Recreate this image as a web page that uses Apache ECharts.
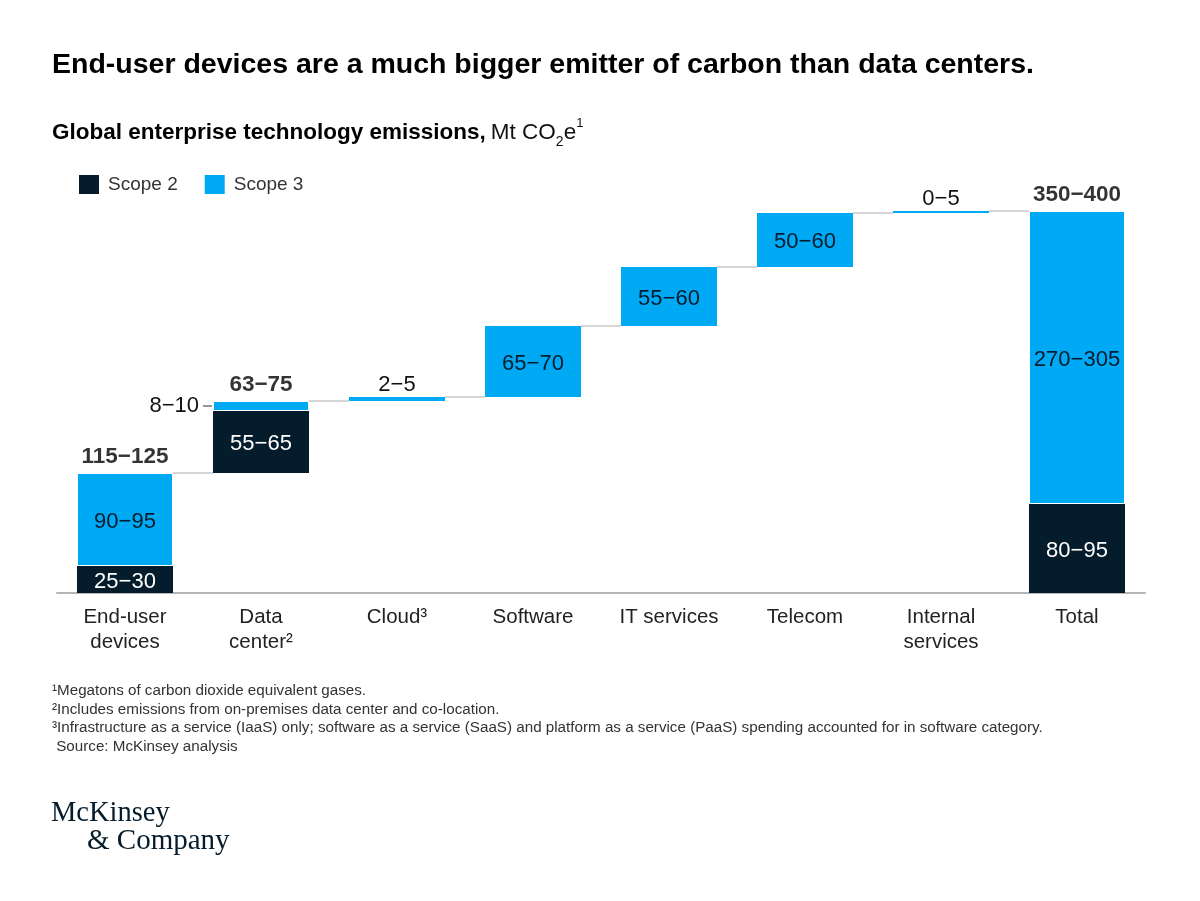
<!DOCTYPE html>
<html><head><meta charset="utf-8">
<script src="https://cdn.jsdelivr.net/npm/echarts@6/dist/echarts.min.js"></script>
<style>html,body{margin:0;padding:0;background:#fff}#c{width:1200px;height:901px}</style>
</head><body><div id="c"></div>
<script>
const categories = ['End-user\ndevices', 'Data\ncenter\u00B2', 'Cloud\u00B3', 'Software', 'IT services', 'Telecom', 'Internal\nservices', 'Total'];
const isTotal = [false, false, false, false, false, false, false, true];
const scope2 = [27, 62, 0, 0, 0, 0, 0, 89];
const scope3 = [93, 10, 4, 71, 59, 54, 2, 293];
const scope2Labels = ['25\u221230', '55\u221265', '', '', '', '', '', '80\u221295'];
const scope3Labels = ['90\u221295', '8\u221210', '2\u22125', '65\u221270', '55\u221260', '50\u221260', '0\u22125', '270\u2212305'];
const totalLabels = ['115\u2212125', '63\u221275', '', '', '', '', '', '350\u2212400'];
const footnotes = [
  '\u00B9Megatons of carbon dioxide equivalent gases.',
  '\u00B2Includes emissions from on-premises data center and co-location.',
  '\u00B3Infrastructure as a service (IaaS) only; software as a service (SaaS) and platform as a service (PaaS) spending accounted for in software category.',
  ' Source: McKinsey analysis'
];

const FONT = 'Liberation Sans, Arial, sans-serif';
const NAVY = '#051c2c', CYAN = '#00a9f4';
const BAR_FRAC = 0.706;

// waterfall bases
const base = [], tops = [];
let run = 0;
for (let i = 0; i < categories.length; i++) {
  const b = isTotal[i] ? 0 : run;
  base.push(b);
  const t = b + scope2[i] + scope3[i];
  tops.push(t);
  if (!isTotal[i]) run = t;
}

function posFor(v) { return v <= 5 ? 'top' : (v <= 12 ? 'left' : 'inside'); }

const scope3Data = scope3.map((v, i) => {
  const p = posFor(v);
  const lab = { show: true, formatter: scope3Labels[i], position: p, color: NAVY, offset: [0, 2] };
  if (p === 'top') { lab.distance = 1; lab.color = '#111'; lab.offset = [0, 0]; }
  if (p === 'left') { lab.distance = 14; lab.color = '#111'; lab.offset = [0, 0]; }
  const item = { value: v, label: lab };
  if (scope2[i] > 0) item.itemStyle = { borderColor: '#fff', borderWidth: 1 };
  return item;
});
const scope2Data = scope2.map((v, i) => ({ value: v, label: { show: v > 0, formatter: scope2Labels[i] } }));
const totalData = tops.map((t, i) => totalLabels[i] ? [i, t] : [i, null]);
const connData = [];
for (let i = 0; i < categories.length - 1; i++) connData.push([i, tops[i]]);
const leaderData = [];
scope3.forEach((v, i) => { if (posFor(v) === 'left') leaderData.push([i, base[i] + scope2[i] + v / 2]); });

const chart = echarts.init(document.getElementById('c'), null, { renderer: 'canvas' });
chart.setOption({
  backgroundColor: '#fff',
  animation: false,
  textStyle: { fontFamily: FONT },
  title: [
    { text: 'End-user devices are a much bigger emitter of carbon than data centers.', left: 47, top: 46,
      textStyle: { fontFamily: FONT, fontSize: 28.5, fontWeight: 'bold', color: '#000' } },
    { text: '{b|Global enterprise technology emissions,} {r|Mt CO}{sub|2}{r|e}{sup|1}', left: 47, top: 112,
      textStyle: { fontWeight: 'normal', rich: {
        b: { fontFamily: FONT, fontSize: 22.5, fontWeight: 'bold', color: '#000', lineHeight: 28 },
        r: { fontFamily: FONT, fontSize: 22.5, fontWeight: 'normal', color: '#111', lineHeight: 28 },
        sub: { fontFamily: FONT, fontSize: 14, fontWeight: 'normal', color: '#111', lineHeight: 21, verticalAlign: 'bottom' },
        sup: { fontFamily: FONT, fontSize: 13, fontWeight: 'normal', color: '#111', lineHeight: 32, verticalAlign: 'top' }
      } } },
    { text: footnotes.join('\n'), left: 47, top: 677,
      textStyle: { fontFamily: FONT, fontSize: 15.2, color: '#333', lineHeight: 18.5, fontWeight: 'normal' } },
    { text: 'McKinsey', left: 46, top: 794,
      textStyle: { fontFamily: 'Liberation Serif, serif', fontSize: 28.5, color: NAVY, fontWeight: 'normal' } },
    { text: '& Company', left: 82, top: 822,
      textStyle: { fontFamily: 'Liberation Serif, serif', fontSize: 29, color: NAVY, fontWeight: 'normal' } }
  ],
  legend: {
    data: ['Scope 2', 'Scope 3'], left: 74, top: 170, icon: 'rect', itemWidth: 20, itemHeight: 19, itemGap: 27,
    textStyle: { fontFamily: FONT, fontSize: 19, color: '#333', padding: [0, 0, 0, 4] }
  },
  grid: { left: 57, right: 55, top: 193, bottom: 308 },
  xAxis: {
    type: 'category', data: categories,
    axisLine: { lineStyle: { color: '#b5b5b5', width: 2 } },
    axisTick: { show: false },
    axisLabel: { fontFamily: FONT, fontSize: 20.5, color: '#222', lineHeight: 25, margin: 12, interval: 0 }
  },
  yAxis: { type: 'value', min: 0, max: 400, show: false, splitLine: { show: false } },
  series: [
    { type: 'bar', name: 'base', stack: 'w', data: base, barWidth: (BAR_FRAC * 100) + '%', silent: true,
      itemStyle: { color: 'rgba(0,0,0,0)' } },
    { type: 'bar', name: 'Scope 2', stack: 'w', data: scope2Data, barWidth: (BAR_FRAC * 100) + '%',
      itemStyle: { color: NAVY },
      label: { position: 'inside', color: '#fff', fontFamily: FONT, fontSize: 22, offset: [0, 2] } },
    { type: 'bar', name: 'Scope 3', stack: 'w', data: scope3Data, barWidth: (BAR_FRAC * 100) + '%',
      itemStyle: { color: CYAN },
      label: { fontFamily: FONT, fontSize: 22 } },
    { type: 'scatter', name: 'totals', data: totalData, symbolSize: 0.1, silent: true,
      label: { show: true, position: 'top', distance: 5, fontFamily: FONT, fontSize: 22.5, fontWeight: 'bold', color: '#000',
        formatter: p => totalLabels[p.dataIndex] } },
    { type: 'custom', name: 'connectors', data: connData, silent: true, z: 1,
      renderItem: (params, api) => {
        const p = api.coord([api.value(0), api.value(1)]);
        const band = api.size([1, 0])[0];
        const half = band * BAR_FRAC / 2;
        return { type: 'line', shape: { x1: p[0] + half, y1: p[1], x2: p[0] + band - half, y2: p[1] },
          style: { stroke: '#c8c8c8', lineWidth: 1.3 } };
      } },
    { type: 'custom', name: 'leaders', data: leaderData, silent: true,
      renderItem: (params, api) => {
        const p = api.coord([api.value(0), api.value(1)]);
        const band = api.size([1, 0])[0];
        const half = band * BAR_FRAC / 2;
        return { type: 'line', shape: { x1: p[0] - half - 10, y1: p[1], x2: p[0] - half - 1, y2: p[1] },
          style: { stroke: '#333', lineWidth: 1 } };
      } }
  ]
});
</script></body></html>
